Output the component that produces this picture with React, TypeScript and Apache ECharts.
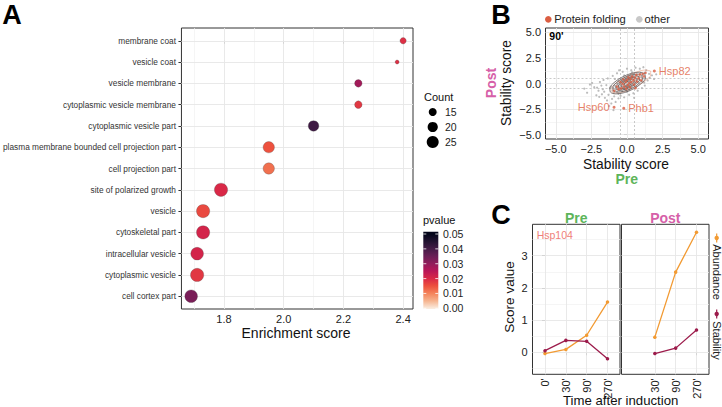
import React, { useEffect, useRef } from 'react';
import * as echarts from 'echarts';

const FONT = '"Liberation Sans", Arial, Helvetica, sans-serif';

// ---------- Panel A data ----------
const goTerms = [
  'membrane coat',
  'vesicle coat',
  'vesicle membrane',
  'cytoplasmic vesicle membrane',
  'cytoplasmic vesicle part',
  'plasma membrane bounded cell projection part',
  'cell projection part',
  'site of polarized growth',
  'vesicle',
  'cytoskeletal part',
  'intracellular vesicle',
  'cytoplasmic vesicle',
  'cell cortex part',
];
const enrichment = [2.4, 2.38, 2.25, 2.25, 2.1, 1.95, 1.95, 1.79, 1.73, 1.73, 1.71, 1.71, 1.69];
const pvalues = [0.019, 0.019, 0.028, 0.018, 0.041, 0.015, 0.012, 0.02, 0.016, 0.021, 0.021, 0.018, 0.033];
const counts = [12, 9, 14, 14, 21, 23, 23, 29, 29, 29, 27, 29, 27];
const enrichTicks = [1.8, 2.0, 2.2, 2.4];
const enrichMinor = [1.7, 1.9, 2.1, 2.3];
const countBreaks = [15, 20, 25];
const pBreaks = [0.05, 0.04, 0.03, 0.02, 0.01, 0.0];

// ---------- Panel B data ----------
const stabTicks = [-5, -2.5, 0, 2.5, 5];
const stabMinor = [-3.75, -1.25, 1.25, 3.75];
const thresholds = [-0.5, 0.5];
const otherPoints = [
  [-2.6, -0.1], [-2.45, 0.05], [-2.3, -0.35], [-2.15, -1.15], [-2.1, -0.4], [-2.0, -0.7], [-1.95, -1.3],
  [-1.9, 0.15], [-1.8, -0.2], [-1.76, -1.05], [-1.7, -0.55], [-1.65, 0.35], [-1.6, -0.8], [-1.55, -1.4],
  [-1.45, -0.15], [-1.4, -1.65], [-1.35, 0.5], [-1.3, -1.1], [-1.25, -2.2], [-1.2, -0.45], [-1.1, -1.95],
  [-1.05, -1.5], [-1.0, 0.75], [-0.95, -2.6], [-0.9, -1.25], [-0.85, 0.45], [-0.8, -1.8], [-0.7, 1.0],
  [-0.6, -1.45], [-0.55, 1.3], [-0.45, -1.2], [-0.3, 1.15], [-0.2, -1.35], [0.0, 1.45], [0.15, -1.1],
  [0.3, 1.3], [0.45, -0.95], [0.6, 1.55], [0.75, -0.7], [0.9, 1.45], [1.05, -0.45], [1.15, 1.6],
  [1.25, -0.2], [1.35, 1.3], [1.45, 0.3], [1.55, 0.95], [1.6, 0.55], [1.75, 0.8], [1.9, 0.45],
  [2.05, 0.9], [-3.0, -0.5], [-2.8, -0.9], [1.2, 0.1], [0.5, -1.4],
  [-1.0, -0.7], [-0.95, -0.45], [-0.9, -0.9], [-0.85, -0.2], [-0.8, -0.6], [-0.75, -0.35], [-0.7, -0.8],
  [-0.7, 0.0], [-0.65, -0.5], [-0.6, -0.2], [-0.6, 0.25], [-0.55, -0.65], [-0.5, -0.35], [-0.5, 0.05],
  [-0.45, -0.1], [-0.45, -0.55], [-0.4, 0.3], [-0.4, -0.25], [-0.35, -0.75], [-0.35, 0.1], [-0.3, -0.4],
  [-0.3, 0.45], [-0.25, -0.15], [-0.25, 0.2], [-0.2, -0.55], [-0.2, 0.0], [-0.15, 0.35], [-0.15, -0.3],
  [-0.1, 0.1], [-0.1, -0.65], [-0.05, 0.55], [-0.05, -0.2], [0.0, 0.25], [0.0, -0.45], [0.05, 0.05],
  [0.05, 0.7], [0.1, -0.3], [0.1, 0.4], [0.15, 0.15], [0.15, -0.6], [0.2, 0.55], [0.2, -0.1], [0.25, 0.3],
  [0.25, 0.85], [0.3, 0.05], [0.3, -0.4], [0.35, 0.5], [0.4, 0.2], [0.4, 0.75], [0.45, -0.15], [0.5, 0.4],
  [0.5, 0.95], [0.55, 0.1], [0.6, 0.6], [0.65, 0.3], [0.65, -0.3], [0.7, 0.85], [0.75, 0.45], [0.8, 0.1],
  [0.85, 0.7], [0.9, 0.35], [0.95, 1.0], [1.0, 0.6], [1.05, 0.2], [1.1, 0.85], [1.2, 0.5], [1.25, 1.05],
  [-0.6, -1.0], [-1.1, -0.3], [0.35, 1.1], [-0.2, 0.8], [0.0, -0.8],
];
const foldingPoints = [
  [-0.7, -0.3], [-0.6, -0.55], [-0.45, 0.15], [-0.4, -0.45], [-0.3, -0.05], [-0.25, 0.4], [-0.2, -0.3],
  [-0.1, 0.15], [-0.05, -0.5], [0.0, 0.35], [0.05, -0.15], [0.1, 0.6], [0.15, 0.05], [0.2, -0.35],
  [0.25, 0.45], [0.3, 0.15], [0.35, 0.7], [0.45, 0.3], [0.5, -0.1], [0.55, 0.55], [0.65, 0.85], [0.7, 0.2],
  [0.8, 0.5], [0.9, 0.9], [1.0, 0.3], [1.1, 0.95], [1.2, 0.7], [1.3, 1.05], [-0.9, -0.7], [0.6, -0.45],
];
const labeledGenes = ['Hsp82', 'Hsp60', 'Phb1'];
const labeledX = [1.92, -0.91, -0.23];
const labeledY = [1.22, -2.32, -2.42];
// density contours
const otherContours = [
  [[1.25, 0.95], [0.88, 1.11], [0.29, 0.99], [-0.37, 0.61], [-0.91, 0.09], [-1.2, -0.45], [-1.15, -0.85], [-0.78, -1.01], [-0.19, -0.89], [0.47, -0.51], [1.01, 0.02], [1.3, 0.55], [1.25, 0.95]],
  [[1.05, 0.8], [0.74, 0.93], [0.25, 0.83], [-0.3, 0.51], [-0.75, 0.08], [-0.99, -0.37], [-0.95, -0.7], [-0.64, -0.83], [-0.15, -0.73], [0.4, -0.41], [0.85, 0.02], [1.09, 0.47], [1.05, 0.8]],
  [[0.85, 0.65], [0.61, 0.75], [0.22, 0.66], [-0.22, 0.41], [-0.58, 0.06], [-0.78, -0.29], [-0.75, -0.55], [-0.51, -0.65], [-0.12, -0.56], [0.32, -0.31], [0.68, 0.04], [0.88, 0.39], [0.85, 0.65]],
  [[0.67, 0.52], [0.49, 0.6], [0.18, 0.53], [-0.16, 0.33], [-0.44, 0.06], [-0.6, -0.22], [-0.57, -0.42], [-0.39, -0.5], [-0.08, -0.43], [0.26, -0.23], [0.54, 0.04], [0.7, 0.32], [0.67, 0.52]],
  [[0.49, 0.38], [0.36, 0.44], [0.14, 0.39], [-0.1, 0.25], [-0.3, 0.06], [-0.41, -0.14], [-0.39, -0.28], [-0.26, -0.34], [-0.04, -0.29], [0.2, -0.15], [0.4, 0.04], [0.51, 0.24], [0.49, 0.38]],
  [[0.29, 0.23], [0.22, 0.26], [0.1, 0.24], [-0.03, 0.16], [-0.14, 0.06], [-0.2, -0.05], [-0.19, -0.13], [-0.12, -0.16], [0.0, -0.14], [0.13, -0.06], [0.24, 0.06], [0.3, 0.15], [0.29, 0.23]],
];
const foldingContours = [
  [[1.66, 1.22], [1.3, 1.32], [0.67, 1.13], [-0.06, 0.68], [-0.69, 0.11], [-1.06, -0.44], [-1.06, -0.82], [-0.7, -0.92], [-0.07, -0.73], [0.66, -0.28], [1.29, 0.29], [1.66, 0.84], [1.66, 1.22]],
  [[1.0, 0.7], [0.79, 0.76], [0.42, 0.64], [-0.01, 0.38], [-0.38, 0.04], [-0.6, -0.28], [-0.6, -0.5], [-0.39, -0.56], [-0.02, -0.44], [0.41, -0.18], [0.78, 0.16], [1.0, 0.48], [1.0, 0.7]],
  [[0.6, 0.4], [0.49, 0.44], [0.3, 0.39], [0.08, 0.26], [-0.1, 0.09], [-0.21, -0.08], [-0.2, -0.2], [-0.09, -0.24], [0.1, -0.19], [0.32, -0.06], [0.5, 0.11], [0.61, 0.28], [0.6, 0.4]],
];

// ---------- Panel C data ----------
const timeLabels = ["0'", "30'", "90'", "270'"];
const preAbundance = [-0.04, 0.09, 0.53, 1.56];
const preStability = [0.05, 0.37, 0.34, -0.2];
const postAbundance = [null, 0.47, 2.49, 3.73];
const postStability = [null, -0.04, 0.13, 0.69];
const scoreTicks = [0, 1, 2, 3];
const scoreMinor = [-0.5, 0.5, 1.5, 2.5, 3.5];

// ---------- styles ----------
const rocket = ['#03051A', '#221331', '#451C47', '#6A1F56', '#921C5B', '#B91657', '#D92847', '#ED513E', '#F4845B', '#F6B48F', '#FAEBDD'];
const pColors = [...rocket].reverse();
const ORANGE_PT = '#DB5E42';
const GRAY_PT = '#B8B8B8';
const ABUND = '#F29A32';
const STAB = '#9C1B4B';
const GREEN = '#5DB55A';
const PINK = '#D660A8';

const sizeOf = (c: number) => Math.sqrt(Math.max(8 * c - 56, 9));

function gridLines(xs: number[], ys: number[], xsMinor: number[], ysMinor: number[], extra: any[] = []) {
  const minor = { color: '#F0F0F0', width: 0.7, type: 'solid' };
  return {
    silent: true,
    symbol: ['none', 'none'],
    z: 1,
    label: { show: false },
    emphasis: { disabled: true },
    lineStyle: { color: '#E6E6E6', width: 0.9, type: 'solid' },
    data: [
      ...xsMinor.map((v) => ({ xAxis: v, lineStyle: minor })),
      ...ysMinor.map((v) => ({ yAxis: v, lineStyle: minor })),
      ...xs.map((v) => ({ xAxis: v })),
      ...ys.map((v) => ({ yAxis: v })),
      ...extra,
    ],
  };
}

const frame = { show: true, borderColor: '#333', borderWidth: 1, backgroundColor: 'rgba(0,0,0,0)' };
const tick = (vals: number[] | null) => ({
  show: vals !== null,
  length: 3,
  lineStyle: { color: '#333', width: 1 },
  ...(vals ? { customValues: vals } : {}),
});
const lbl = (vals: number[] | null, fmt: (v: number) => string, extra: any = {}) => ({
  show: vals !== null,
  ...(vals ? { customValues: vals } : {}),
  formatter: fmt,
  fontSize: 11,
  color: '#222',
  fontFamily: FONT,
  margin: 4,
  ...extra,
});
const fmtStab = (v: number) => (v < 0 ? '\u2212' : '') + Math.abs(v).toFixed(1);

function txt(text: string, x: number, y: number, size: number, opts: any = {}) {
  const { rotation, ...style } = opts;
  return {
    type: 'text',
    x,
    y,
    z: 20,
    rotation: rotation || 0,
    silent: true,
    style: {
      text,
      fontSize: size,
      fontFamily: FONT,
      fill: '#111',
      align: 'center',
      verticalAlign: 'middle',
      ...style,
    },
  };
}

function buildOption() {
  const idx = goTerms.map((_, i) => i);
  const contourSeries = (pts: number[][], color: string, z: number, width: number) => ({
    type: 'line',
    xAxisIndex: 1,
    yAxisIndex: 1,
    data: pts,
    smooth: 0.35,
    symbol: 'none',
    silent: true,
    lineStyle: { color, width, opacity: 0.9 },
    z,
  });

  // colour bar
  const barTop = 231.7;
  const barH = 77.3;
  const y0 = 308.3;
  const ySpan = 74.3;
  const clamp = (v: number) => Math.min(1, Math.max(0, v));
  const stops = rocket.map((c, i) => ({ offset: clamp((y0 - (1 - i / 10) * ySpan - barTop) / barH), color: c }));
  const pY = (p: number) => y0 - (p / 0.05) * ySpan;

  const graphics: any[] = [
    txt('A', 12, 15, 27, { fontWeight: 'bold', fill: '#000' }),
    txt('B', 501, 15, 27, { fontWeight: 'bold', fill: '#000' }),
    txt('C', 501, 215, 27, { fontWeight: 'bold', fill: '#000' }),
    txt('Enrichment score', 296, 332.7, 14),
    // Count legend
    txt('Count', 424, 97, 11, { align: 'left' }),
    ...countBreaks.map((c, i) => ({
      type: 'circle',
      silent: true,
      shape: { cx: 432.7, cy: 112 + i * 15, r: sizeOf(c) / 2 },
      style: { fill: '#000' },
    })),
    ...countBreaks.map((c, i) => txt(String(c), 445, 112 + i * 15, 10.5, { align: 'left', fill: '#222' })),
    // pvalue legend
    txt('pvalue', 423, 220, 11, { align: 'left' }),
    {
      type: 'rect',
      silent: true,
      shape: { x: 423.3, y: barTop, width: 15, height: barH },
      style: { fill: new echarts.graphic.LinearGradient(0, 0, 0, 1, stops) },
    },
    ...pBreaks.flatMap((p) => [
      { type: 'line', silent: true, shape: { x1: 423.3, y1: pY(p), x2: 426.3, y2: pY(p) }, style: { stroke: '#fff', lineWidth: 0.8 } },
      { type: 'line', silent: true, shape: { x1: 435.3, y1: pY(p), x2: 438.3, y2: pY(p) }, style: { stroke: '#fff', lineWidth: 0.8 } },
      txt(p.toFixed(2), 443, pY(p), 10.5, { align: 'left', fill: '#222' }),
    ]),
    // B legend
    { type: 'circle', silent: true, shape: { cx: 548.3, cy: 19.3, r: 3.3 }, style: { fill: ORANGE_PT } },
    txt('Protein folding', 554.3, 19.3, 11.2, { align: 'left', fill: '#222' }),
    { type: 'circle', silent: true, shape: { cx: 639.3, cy: 19.3, r: 3.3 }, style: { fill: '#C8C8C8' } },
    txt('other', 644.5, 19.3, 11.2, { align: 'left', fill: '#222' }),
    txt("90'", 549.3, 35.7, 10.5, { align: 'left', fontWeight: 'bold', fill: '#000' }),
    txt('Stability score', 506.7, 83, 13.8, { rotation: Math.PI / 2 }),
    txt('Post', 491, 83, 14, { rotation: Math.PI / 2, fontWeight: 'bold', fill: PINK }),
    txt('Stability score', 626, 164.3, 13.8),
    txt('Pre', 626.7, 179, 14, { fontWeight: 'bold', fill: GREEN }),
    // C
    txt('Pre', 576.3, 218.3, 14, { fontWeight: 'bold', fill: GREEN }),
    txt('Post', 665.3, 218.3, 14, { fontWeight: 'bold', fill: PINK }),
    txt('Hsp104', 536.7, 235, 10.5, { align: 'left', fill: '#EF7F7A' }),
    txt('Score value', 509.3, 297, 13.5, { rotation: Math.PI / 2 }),
    txt('Time after induction', 620.7, 400.3, 13.2),
    { type: 'line', silent: true, shape: { x1: 716.7, y1: 233.5, x2: 716.7, y2: 242.5 }, style: { stroke: ABUND, lineWidth: 1.2 } },
    { type: 'circle', silent: true, shape: { cx: 716.7, cy: 238, r: 2.2 }, style: { fill: ABUND } },
    txt('Abundance', 716.7, 272, 11, { rotation: -Math.PI / 2, fill: '#222' }),
    { type: 'line', silent: true, shape: { x1: 716.7, y1: 309.5, x2: 716.7, y2: 318.5 }, style: { stroke: STAB, lineWidth: 1.2 } },
    { type: 'circle', silent: true, shape: { cx: 716.7, cy: 314, r: 2.2 }, style: { fill: STAB } },
    txt('Stability', 716.7, 340.5, 11, { rotation: -Math.PI / 2, fill: '#222' }),
  ];

  const toPairs = (vals: (number | null)[]) =>
    vals.map((v, i) => (v === null ? null : [i, v])).filter((d) => d !== null);

  const cLine = (grid: number, vals: (number | null)[], color: string, withGrid: boolean) => ({
    type: 'line',
    xAxisIndex: grid,
    yAxisIndex: grid,
    data: toPairs(vals),
    symbol: 'circle',
    symbolSize: 3.5,
    silent: true,
    itemStyle: { color },
    lineStyle: { color, width: 1.3 },
    z: 3,
    ...(withGrid
      ? {
          markLine: gridLines(grid === 2 ? scoreTicks : [1, 2, 3], scoreTicks, [], scoreMinor),
        }
      : {}),
  });

  return {
    animation: false,
    backgroundColor: '#fff',
    textStyle: { fontFamily: FONT },
    grid: [
      { left: 179, top: 28, width: 234, height: 281, ...frame },
      { left: 545.5, top: 28, width: 163, height: 111, ...frame },
      { left: 532.5, top: 224.3, width: 87.5, height: 150, ...frame },
      { left: 621.5, top: 224.3, width: 87.5, height: 150, ...frame },
    ],
    xAxis: [
      {
        type: 'value', gridIndex: 0, min: 1.6575, max: 2.4331,
        axisLine: { show: false }, splitLine: { show: false },
        axisTick: tick(enrichTicks),
        axisLabel: lbl(enrichTicks, (v) => v.toFixed(1), { margin: 4.5 }),
      },
      {
        type: 'value', gridIndex: 1, min: -5.72, max: 5.72,
        axisLine: { show: false }, splitLine: { show: false },
        axisTick: tick(stabTicks),
        axisLabel: lbl(stabTicks, fmtStab, { margin: 4.5 }),
      },
      {
        type: 'value', gridIndex: 2, min: -0.6, max: 3.6,
        axisLine: { show: false }, splitLine: { show: false },
        axisTick: tick(scoreTicks),
        axisLabel: lbl(scoreTicks, (v) => timeLabels[Math.round(v)], { rotate: 90, margin: 4 }),
      },
      {
        type: 'value', gridIndex: 3, min: -0.6, max: 3.6,
        axisLine: { show: false }, splitLine: { show: false },
        axisTick: tick([1, 2, 3]),
        axisLabel: lbl([1, 2, 3], (v) => timeLabels[Math.round(v)], { rotate: 90, margin: 4 }),
      },
    ],
    yAxis: [
      {
        type: 'value', gridIndex: 0, min: -0.6, max: 12.6, inverse: true,
        axisLine: { show: false }, splitLine: { show: false },
        axisTick: tick(idx),
        axisLabel: lbl(idx, (v) => goTerms[Math.round(v)] || '', { fontSize: 8.3, margin: 5.5, color: '#333' }),
      },
      {
        type: 'value', gridIndex: 1, min: -5.42, max: 5.43,
        axisLine: { show: false }, splitLine: { show: false },
        axisTick: tick(stabTicks),
        axisLabel: lbl(stabTicks, fmtStab, { margin: 4.5 }),
      },
      {
        type: 'value', gridIndex: 2, min: -0.683, max: 3.975,
        axisLine: { show: false }, splitLine: { show: false },
        axisTick: tick(scoreTicks),
        axisLabel: lbl(scoreTicks, (v) => String(Math.round(v)), { margin: 5 }),
      },
      {
        type: 'value', gridIndex: 3, min: -0.683, max: 3.975,
        axisLine: { show: false }, splitLine: { show: false },
        axisTick: { show: false },
        axisLabel: { show: false },
      },
    ],
    visualMap: [
      {
        type: 'continuous', show: false, seriesIndex: 0, dimension: 2,
        min: 0, max: 0.05, inRange: { color: pColors },
      },
    ],
    series: [
      {
        type: 'scatter',
        xAxisIndex: 0,
        yAxisIndex: 0,
        data: goTerms.map((_, i) => [enrichment[i], i, pvalues[i], counts[i]]),
        symbolSize: (v: number[]) => sizeOf(v[3]),
        itemStyle: { borderColor: 'rgba(70,70,70,0.55)', borderWidth: 0.5, opacity: 1 },
        silent: true,
        z: 3,
        markLine: gridLines(enrichTicks, idx, enrichMinor, []),
      },
      {
        type: 'scatter',
        name: 'other',
        xAxisIndex: 1,
        yAxisIndex: 1,
        data: otherPoints,
        symbolSize: 2.2,
        silent: true,
        itemStyle: { color: GRAY_PT, opacity: 0.95 },
        z: 3,
        markLine: gridLines(stabTicks, stabTicks, stabMinor, stabMinor, [
          ...thresholds.map((v) => ({ xAxis: v, lineStyle: { color: '#BBBBBB', width: 0.8, type: [2, 2] } })),
          ...thresholds.map((v) => ({ yAxis: v, lineStyle: { color: '#BBBBBB', width: 0.8, type: [2, 2] } })),
        ]),
      },
      ...foldingContours.map((c) => contourSeries(c, '#E8906F', 4, 0.55)),
      ...otherContours.map((c) => contourSeries(c, '#4A4242', 5, 0.75)),
      {
        type: 'scatter',
        name: 'Protein folding',
        xAxisIndex: 1,
        yAxisIndex: 1,
        data: foldingPoints,
        symbolSize: 2.6,
        silent: true,
        itemStyle: { color: ORANGE_PT },
        z: 6,
      },
      {
        type: 'scatter',
        xAxisIndex: 1,
        yAxisIndex: 1,
        data: labeledGenes.map((g, i) => ({
          name: g,
          value: [labeledX[i], labeledY[i]],
          label: { position: i === 1 ? 'left' : 'right' },
        })),
        symbolSize: 3,
        silent: true,
        itemStyle: { color: ORANGE_PT },
        label: {
          show: true,
          formatter: (p: any) => p.name,
          fontSize: 11,
          color: '#E0603F',
          fontFamily: FONT,
          distance: 3,
        },
        z: 6,
      },
      cLine(2, preAbundance, ABUND, true),
      cLine(2, preStability, STAB, false),
      cLine(3, postAbundance, ABUND, true),
      cLine(3, postStability, STAB, false),
    ],
    graphic: graphics,
  };
}

export default function App() {
  const ref = useRef<HTMLDivElement>(null);
  useEffect(() => {
    document.body.style.margin = '0';
    const chart = echarts.init(ref.current as HTMLDivElement, undefined, { renderer: 'svg' });
    chart.setOption(buildOption() as any);
    return () => chart.dispose();
  }, []);
  return <div ref={ref} style={{ width: 722, height: 407 }} />;
}
